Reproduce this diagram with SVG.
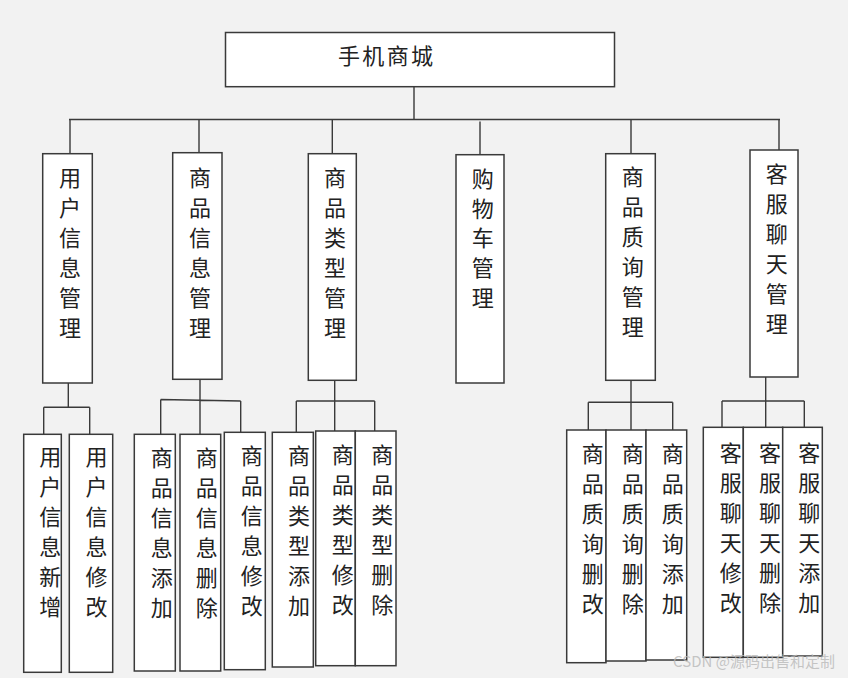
<svg xmlns="http://www.w3.org/2000/svg" width="848" height="678" viewBox="0 0 848 678">
<style>
.bg{fill:#f2f2f2}
.box{fill:#ffffff;stroke:#3a3a3a;stroke-width:1.5}
.ln{fill:none;stroke:#3a3a3a;stroke-width:1.4}
.t{font-family:"Noto Sans CJK SC","Noto Sans",sans-serif;font-size:22px;fill:#222;text-anchor:middle}
.top{font-family:"Noto Sans CJK SC","Noto Sans",sans-serif;font-size:22px;fill:#222}
.wm{font-family:"Noto Sans CJK SC","Noto Sans",sans-serif;font-size:15px;fill:#b8b8b8;fill-opacity:0.8}
</style>
<rect class="bg" x="0" y="0" width="848" height="678"/>

<g id="connectors">
<path class="ln" d="M414 86.7V119.5M69 119.5H780M70 119.5V153.7M199 119.5V152.7M332.3 119.5V153.7M480 121.5V154.7M631 119.5V153.7M779 119.5V150"/>
<path class="ln" d="M68.3 383V407.3M43.7 407.3H89.7M43.7 407.3V434.3M89.7 407.3V434.3"/>
<path class="ln" d="M200 379.3V434.3M160.7 399.5L240.7 401M160.7 399.5V434.3M240.7 401V432.3"/>
<path class="ln" d="M334.7 380.3V431M296.3 401H374.7M296.3 401V432.3M374.7 401V431"/>
<path class="ln" d="M631 380.3V430M588.3 402.3H672.7M588.3 402.3V430M672.7 402.3V430"/>
<path class="ln" d="M765.7 377V427.3M722 401H804.3M722 401V427.3M804.3 401V427.3"/>
</g>

<g id="root">
<rect class="box" x="225.5" y="32.5" width="389" height="54.2"/>
<text class="top" x="338" y="64" textLength="95">手机商城</text>
</g>

<g id="n-user">
<rect class="box" x="42.7" y="153.7" width="49.6" height="229.3"/>
<text class="t" x="70" y="186"><tspan x="70">用</tspan><tspan x="70" dy="30">户</tspan><tspan x="70" dy="30">信</tspan><tspan x="70" dy="30">息</tspan><tspan x="70" dy="30">管</tspan><tspan x="70" dy="30">理</tspan></text>
</g>
<g id="n-goods">
<rect class="box" x="172.7" y="152.7" width="49.3" height="226.6"/>
<text class="t" x="200" y="186"><tspan x="200">商</tspan><tspan x="200" dy="30">品</tspan><tspan x="200" dy="30">信</tspan><tspan x="200" dy="30">息</tspan><tspan x="200" dy="30">管</tspan><tspan x="200" dy="30">理</tspan></text>
</g>
<g id="n-type">
<rect class="box" x="308.3" y="153.7" width="48" height="226.6"/>
<text class="t" x="335" y="186"><tspan x="335">商</tspan><tspan x="335" dy="30">品</tspan><tspan x="335" dy="30">类</tspan><tspan x="335" dy="30">型</tspan><tspan x="335" dy="30">管</tspan><tspan x="335" dy="30">理</tspan></text>
</g>
<g id="n-cart">
<rect class="box" x="456" y="154.7" width="48" height="228.3"/>
<text class="t" x="482.7" y="187"><tspan x="482.7">购</tspan><tspan x="482.7" dy="29.7">物</tspan><tspan x="482.7" dy="29.7">车</tspan><tspan x="482.7" dy="29.7">管</tspan><tspan x="482.7" dy="29.7">理</tspan></text>
</g>
<g id="n-quality">
<rect class="box" x="605.7" y="153.7" width="49.6" height="226.6"/>
<text class="t" x="632.7" y="185"><tspan x="632.7">商</tspan><tspan x="632.7" dy="30">品</tspan><tspan x="632.7" dy="30">质</tspan><tspan x="632.7" dy="30">询</tspan><tspan x="632.7" dy="30">管</tspan><tspan x="632.7" dy="30">理</tspan></text>
</g>
<g id="n-chat">
<rect class="box" x="750" y="150" width="48" height="227"/>
<text class="t" x="776.7" y="182"><tspan x="776.7">客</tspan><tspan x="776.7" dy="30">服</tspan><tspan x="776.7" dy="30">聊</tspan><tspan x="776.7" dy="30">天</tspan><tspan x="776.7" dy="30">管</tspan><tspan x="776.7" dy="30">理</tspan></text>
</g>

<g id="l-user-add">
<rect class="box" x="23.7" y="434.3" width="37.6" height="238"/>
<text class="t" x="50.3" y="465"><tspan x="50.3">用</tspan><tspan x="50.3" dy="30">户</tspan><tspan x="50.3" dy="30">信</tspan><tspan x="50.3" dy="30">息</tspan><tspan x="50.3" dy="30">新</tspan><tspan x="50.3" dy="30">增</tspan></text>
</g>
<g id="l-user-edit">
<rect class="box" x="69.3" y="434.3" width="43.4" height="238"/>
<text class="t" x="96.5" y="465"><tspan x="96.5">用</tspan><tspan x="96.5" dy="30">户</tspan><tspan x="96.5" dy="30">信</tspan><tspan x="96.5" dy="30">息</tspan><tspan x="96.5" dy="30">修</tspan><tspan x="96.5" dy="30">改</tspan></text>
</g>
<g id="l-goods-add">
<rect class="box" x="134.3" y="434.3" width="41" height="236.7"/>
<text class="t" x="161.7" y="465.5"><tspan x="161.7">商</tspan><tspan x="161.7" dy="30">品</tspan><tspan x="161.7" dy="30">信</tspan><tspan x="161.7" dy="30">息</tspan><tspan x="161.7" dy="30">添</tspan><tspan x="161.7" dy="30">加</tspan></text>
</g>
<g id="l-goods-del">
<rect class="box" x="180" y="434.3" width="40.7" height="236.7"/>
<text class="t" x="206.7" y="465.5"><tspan x="206.7">商</tspan><tspan x="206.7" dy="30">品</tspan><tspan x="206.7" dy="30">信</tspan><tspan x="206.7" dy="30">息</tspan><tspan x="206.7" dy="30">删</tspan><tspan x="206.7" dy="30">除</tspan></text>
</g>
<g id="l-goods-edit">
<rect class="box" x="224.3" y="432.3" width="41" height="237.4"/>
<text class="t" x="251.7" y="464"><tspan x="251.7">商</tspan><tspan x="251.7" dy="30">品</tspan><tspan x="251.7" dy="30">信</tspan><tspan x="251.7" dy="30">息</tspan><tspan x="251.7" dy="30">修</tspan><tspan x="251.7" dy="30">改</tspan></text>
</g>
<g id="l-type-add">
<rect class="box" x="272.3" y="432.3" width="41" height="234.7"/>
<text class="t" x="299" y="464"><tspan x="299">商</tspan><tspan x="299" dy="30">品</tspan><tspan x="299" dy="30">类</tspan><tspan x="299" dy="30">型</tspan><tspan x="299" dy="30">添</tspan><tspan x="299" dy="30">加</tspan></text>
</g>
<g id="l-type-edit">
<rect class="box" x="315.7" y="431" width="39.6" height="234.7"/>
<text class="t" x="342.7" y="462.5"><tspan x="342.7">商</tspan><tspan x="342.7" dy="30">品</tspan><tspan x="342.7" dy="30">类</tspan><tspan x="342.7" dy="30">型</tspan><tspan x="342.7" dy="30">修</tspan><tspan x="342.7" dy="30">改</tspan></text>
</g>
<g id="l-type-del">
<rect class="box" x="355.3" y="431" width="40.7" height="234.7"/>
<text class="t" x="382.3" y="462.5"><tspan x="382.3">商</tspan><tspan x="382.3" dy="30">品</tspan><tspan x="382.3" dy="30">类</tspan><tspan x="382.3" dy="30">型</tspan><tspan x="382.3" dy="30">删</tspan><tspan x="382.3" dy="30">除</tspan></text>
</g>
<g id="l-quality-modify">
<rect class="box" x="566.7" y="430" width="39.3" height="232.7"/>
<text class="t" x="592.7" y="462"><tspan x="592.7">商</tspan><tspan x="592.7" dy="30">品</tspan><tspan x="592.7" dy="30">质</tspan><tspan x="592.7" dy="30">询</tspan><tspan x="592.7" dy="30">删</tspan><tspan x="592.7" dy="30">改</tspan></text>
</g>
<g id="l-quality-del">
<rect class="box" x="606" y="430" width="40" height="231"/>
<text class="t" x="632.7" y="462"><tspan x="632.7">商</tspan><tspan x="632.7" dy="30">品</tspan><tspan x="632.7" dy="30">质</tspan><tspan x="632.7" dy="30">询</tspan><tspan x="632.7" dy="30">删</tspan><tspan x="632.7" dy="30">除</tspan></text>
</g>
<g id="l-quality-add">
<rect class="box" x="646" y="430" width="40.7" height="230"/>
<text class="t" x="672.7" y="462"><tspan x="672.7">商</tspan><tspan x="672.7" dy="30">品</tspan><tspan x="672.7" dy="30">质</tspan><tspan x="672.7" dy="30">询</tspan><tspan x="672.7" dy="30">添</tspan><tspan x="672.7" dy="30">加</tspan></text>
</g>
<g id="l-chat-edit">
<rect class="box" x="703.3" y="427.3" width="40" height="230"/>
<text class="t" x="730.7" y="461"><tspan x="730.7">客</tspan><tspan x="730.7" dy="30">服</tspan><tspan x="730.7" dy="30">聊</tspan><tspan x="730.7" dy="30">天</tspan><tspan x="730.7" dy="30">修</tspan><tspan x="730.7" dy="30">改</tspan></text>
</g>
<g id="l-chat-del">
<rect class="box" x="743.3" y="427.3" width="39.4" height="230"/>
<text class="t" x="770" y="461"><tspan x="770">客</tspan><tspan x="770" dy="30">服</tspan><tspan x="770" dy="30">聊</tspan><tspan x="770" dy="30">天</tspan><tspan x="770" dy="30">删</tspan><tspan x="770" dy="30">除</tspan></text>
</g>
<g id="l-chat-add">
<rect class="box" x="782.7" y="427.3" width="39.6" height="228.7"/>
<text class="t" x="809.3" y="461"><tspan x="809.3">客</tspan><tspan x="809.3" dy="30">服</tspan><tspan x="809.3" dy="30">聊</tspan><tspan x="809.3" dy="30">天</tspan><tspan x="809.3" dy="30">添</tspan><tspan x="809.3" dy="30">加</tspan></text>
</g>

<text class="wm" x="673" y="667" textLength="162">CSDN @源码出售和定制</text>
</svg>
